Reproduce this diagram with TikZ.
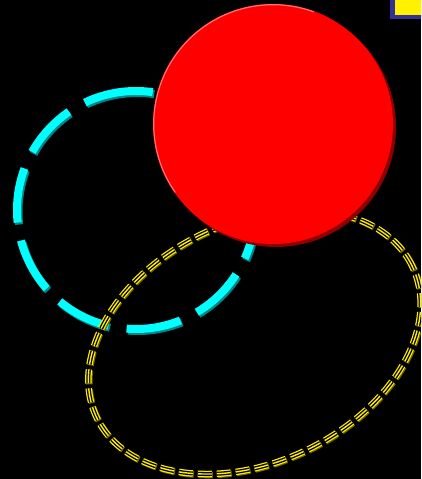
\documentclass[tikz,border=0pt]{standalone}
\definecolor{ringcyan}{RGB}{0,255,255}
\definecolor{ringteal}{RGB}{0,135,135}
\definecolor{ballred}{RGB}{255,0,0}
\definecolor{balldark}{RGB}{140,0,0}
\definecolor{ballrim}{RGB}{255,110,110}
\definecolor{ovalyellow}{RGB}{255,238,0}
\definecolor{ovaldark}{RGB}{110,100,0}
\definecolor{tagblue}{RGB}{50,50,150}
\tikzset{
  ringdash/.style={dash pattern=on 55pt off 18.3pt, line width=8pt},
  ovaldash/.style={dash pattern=on 14pt off 5pt, rotate around={25.6:(oval)}},
  ovalpath/.style={x radius=175, y radius=120}}

\begin{document}
\begin{tikzpicture}[x=1pt, y=1pt]
  \useasboundingbox (0,0) rectangle (421,479);
  \clip (0,0) rectangle (421,479);
  \fill[black] (0,0) rectangle (421,479);
  \coordinate (ring) at (136,269);
  \coordinate (oval) at (254.5,137);
  \coordinate (ball) at (273,355);
  \coordinate (ringsh) at (137.5,267);
  \coordinate (ovalsh) at (255.5,136);
  \coordinate (ballsh) at (276,352);
  % dashed cyan ring
  \draw[ringdash, ringteal] (ringsh) ++(89:119) arc[start angle=89, end angle=449, radius=119];
  \draw[ringdash, ringcyan] (ring) ++(89:119) arc[start angle=89, end angle=449, radius=119];
  % striped yellow oval
  \draw[ovaldash, ovaldark, line width=6.5pt] (ovalsh) ellipse[ovalpath];
  \draw[ovaldash, ovalyellow, line width=6.5pt] (oval) ellipse[ovalpath];
  \draw[ovaldash, black, line width=4pt] (oval) ellipse[ovalpath];
  \draw[ovaldash, ovalyellow, line width=1.4pt] (oval) ellipse[ovalpath];
  % red ball
  \fill[balldark] (ballsh) circle[radius=120];
  \fill[ballred] (ball) circle[radius=120];
  \draw[ballrim, line width=1.2pt] (ball) ++(70:119.3) arc[start angle=70, end angle=215, radius=119.3];
  % yellow tag, top right
  \draw[tagblue, fill=yellow, line width=4.5pt] (392.5,462) rectangle (440,490);
\end{tikzpicture}
\end{document}
